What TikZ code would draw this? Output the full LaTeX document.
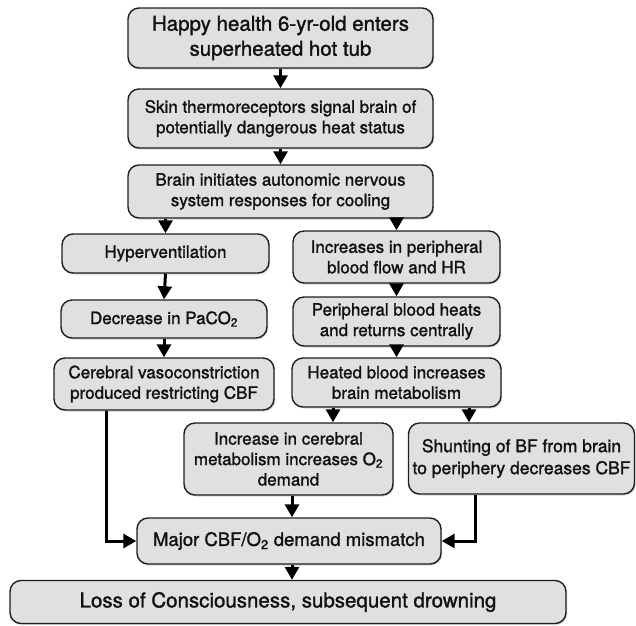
\documentclass[tikz,border=0pt]{standalone}
\usepackage{fontspec}
\setmainfont{TeX Gyre Heros}[FakeBold=1.4]
\usetikzlibrary{arrows.meta,shadows}
\definecolor{boxfill}{HTML}{E0E0E0}
\definecolor{boxline}{HTML}{1E1E1E}
\definecolor{txt}{HTML}{111111}
\tikzset{
  box/.style={draw=boxline, line width=1.4pt, fill=boxfill, rounded corners=11pt,
    align=center, inner sep=2pt, text=txt,
    drop shadow={opacity=0.3, shadow xshift=1.2pt, shadow yshift=-1.5pt},
    font=\fontsize{17}{20.5}\selectfont},
  bigtext/.style={font=\fontsize{20.5}{25}\selectfont},
  midtext/.style={font=\fontsize{18.5}{22}\selectfont},
  arr/.style={line width=3pt, -{Triangle[length=13pt,width=14pt]}, draw=black}
}
\begin{document}
\begin{tikzpicture}[x=1pt,y=-1pt]
\useasboundingbox (0,0) rectangle (636,625);
\node[box,bigtext,minimum width=305pt,minimum height=60pt] (b1) at (280.5,38) {Happy health 6-yr-old enters\\superheated hot tub};
\node[box,minimum width=305pt,minimum height=59pt] (b2) at (280.5,118.5) {Skin thermoreceptors signal brain of\\potentially dangerous heat status};
\node[box,minimum width=305pt,minimum height=53pt] (b3) at (280.5,191.5) {Brain initiates autonomic nervous\\system responses for cooling};
\node[box,minimum width=207pt,minimum height=39pt] (hyp) at (165.5,253.5) {Hyperventilation};
\node[box,minimum width=207pt,minimum height=52pt] (inc) at (396.5,257) {Increases in peripheral\\blood flow and HR};
\node[box,minimum width=206pt,minimum height=38pt] (dec) at (164,319) {Decrease in PaCO\textsubscript{2}};
\node[box,minimum width=207pt,minimum height=49pt] (phe) at (396.5,321.5) {Peripheral blood heats\\and returns centrally};
\node[box,minimum width=220pt,minimum height=52pt] (cvc) at (164,384) {Cerebral vasoconstriction\\produced restricting CBF};
\node[box,minimum width=209pt,minimum height=49pt] (hbl) at (396.5,382.5) {Heated blood increases\\brain metabolism};
\node[box,minimum width=209pt,minimum height=72pt] (icm) at (288.5,459) {Increase in cerebral\\metabolism increases O\textsubscript{2}\\demand};
\node[box,minimum width=226pt,minimum height=71pt,font=\fontsize{17.5}{22}\selectfont] (shu) at (521.5,458.5) {Shunting of BF from brain\\to periphery decreases CBF};
\node[box,midtext,minimum width=304pt,minimum height=46pt] (maj) at (289,541) {Major CBF/O\textsubscript{2} demand mismatch};
\node[box,bigtext,minimum width=556pt,minimum height=43pt] (los) at (288,602) {Loss of Consciousness, subsequent drowning};

\draw[arr] (b1.south) -- (b2.north);
\draw[arr] (b2.south) -- (b3.north);
\draw[arr] (b3.south -| hyp.north) -- (hyp.north);
\draw[arr] (b3.south -| inc.north) -- (inc.north);
\draw[arr] (hyp.south) -- (dec.north);
\draw[arr] (inc.south) -- (phe.north);
\draw[arr] (dec.south) -- (dec.south |- cvc.north);
\draw[arr] (phe.south) -- (hbl.north);
\draw[arr] ([xshift=-63.5pt]hbl.south) -- ([xshift=-63.5pt]hbl.south |- icm.north);
\draw[arr] ([xshift=72.5pt]hbl.south) -- ([xshift=72.5pt]hbl.south |- shu.north);
\draw[arr] ([xshift=3.5pt]icm.south) -- ([xshift=3.5pt]icm.south |- maj.north);
\draw[arr] ([xshift=-58pt]cvc.south) |- (maj.west);
\draw[arr] ([xshift=-46.5pt]shu.south) |- (maj.east);
\draw[arr] ([xshift=3pt]maj.south) -- ([xshift=3pt]maj.south |- los.north);
\end{tikzpicture}
\end{document}
